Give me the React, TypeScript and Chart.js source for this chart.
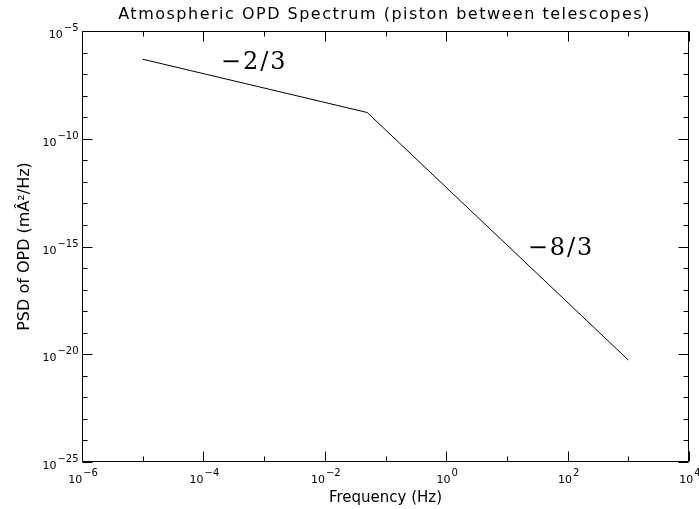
import React, { useEffect, useRef } from 'react';
import { Chart, registerables } from 'chart.js';

Chart.register(...registerables);

// ---- data ----
const frequencyHz = [1e-5, 0.05, 1e3];
const psdOpd = [4.9e-7, 1.65e-9, 5.4e-21];

const xTickExponents = [-6, -5, -4, -3, -2, -1, 0, 1, 2, 3, 4];
const xLabelExponents = [-6, -4, -2, 0, 2, 4];
const yTickExponents = [
  -25, -24, -23, -22, -21, -20, -19, -18, -17, -16, -15, -14, -13, -12, -11, -10, -9, -8, -7, -6, -5,
];
const yLabelExponents = [-25, -20, -15, -10, -5];

const slopeLabels = ['\u22122/3', '\u22128/3'];
const slopeLabelX = [6.6e-4, 75];
const slopeLabelY = [1.74e-7, 4.1e-16];

const chartTitle = 'Atmospheric OPD Spectrum (piston between telescopes)';
const xAxisTitle = 'Frequency (Hz)';
const yAxisTitle = 'PSD of OPD (m\u00c2\u00b2/Hz)';

const BASE_FONT = '11px "DejaVu Sans"';
const EXP_FONT = '10px "DejaVu Sans"';
const expText = (e: number) => String(e).replace('-', '\u2212');

function drawPow10(ctx: CanvasRenderingContext2D, e: number, x: number, baseline: number, align: 'center' | 'right') {
  ctx.font = BASE_FONT;
  const wb = ctx.measureText('10').width;
  ctx.font = EXP_FONT;
  const et = expText(e);
  const we = ctx.measureText(et).width + 1;
  const total = wb + we;
  const x0 = align === 'center' ? x - total / 2 : x - total;
  ctx.textAlign = 'left';
  ctx.textBaseline = 'alphabetic';
  ctx.font = BASE_FONT;
  ctx.fillText('10', x0, baseline);
  ctx.font = EXP_FONT;
  ctx.fillText(et, x0 + wb + 1, baseline - 7);
}

const framePlugin = {
  id: 'idlFrame',
  afterDatasetsDraw(chart: any) {
    const { ctx, chartArea, scales } = chart;
    const { left, right, top, bottom } = chartArea;
    const xs = scales.x;
    const ys = scales.y;
    ctx.save();
    ctx.strokeStyle = '#000';
    ctx.lineWidth = 1;
    const L = Math.round(left) + 0.5;
    const R = Math.round(right) - 0.5;
    const T = Math.round(top) + 0.5;
    const B = Math.round(bottom) - 0.5;
    ctx.beginPath();
    ctx.rect(L, T, R - L, B - T);
    xTickExponents.forEach((e) => {
      const px = Math.round(xs.getPixelForValue(Math.pow(10, e))) + 0.5;
      const len = xLabelExponents.includes(e) ? 10 : 5;
      ctx.moveTo(px, B);
      ctx.lineTo(px, B - len);
      ctx.moveTo(px, T);
      ctx.lineTo(px, T + len);
    });
    yTickExponents.forEach((e) => {
      const py = Math.round(ys.getPixelForValue(Math.pow(10, e))) + 0.5;
      const len = yLabelExponents.includes(e) ? 10 : 5;
      ctx.moveTo(L, py);
      ctx.lineTo(L + len, py);
      ctx.moveTo(R, py);
      ctx.lineTo(R - len, py);
    });
    ctx.stroke();

    ctx.fillStyle = '#000';
    // tick labels (10 with superscript exponent), placed by the scales
    xLabelExponents.forEach((e) => {
      drawPow10(ctx, e, xs.getPixelForValue(Math.pow(10, e)) + 1, bottom + 21, 'center');
    });
    yLabelExponents.forEach((e) => {
      drawPow10(ctx, e, left - 3.5, ys.getPixelForValue(Math.pow(10, e)) + 7, 'right');
    });

    // title centred over the plot area
    ctx.font = '16px "DejaVu Sans"';
    (ctx as any).letterSpacing = '1.5px';
    ctx.textAlign = 'center';
    ctx.textBaseline = 'middle';
    ctx.fillText(chartTitle, (left + right) / 2 - 1, 15);

    // slope annotations
    ctx.font = '24px "DejaVu Serif"';
    (ctx as any).letterSpacing = '2px';
    ctx.textBaseline = 'alphabetic';
    slopeLabels.forEach((t, i) => {
      ctx.fillText(t, xs.getPixelForValue(slopeLabelX[i]) + 1, ys.getPixelForValue(slopeLabelY[i]));
    });
    ctx.restore();
  },
};

export default function App() {
  const ref = useRef<HTMLCanvasElement | null>(null);

  useEffect(() => {
    if (!ref.current) return;
    const chart = new Chart(ref.current, {
      type: 'line',
      data: {
        datasets: [
          {
            data: frequencyHz.map((f, i) => ({ x: f, y: psdOpd[i] })),
            borderColor: '#000',
            borderWidth: 1,
            pointRadius: 0,
            tension: 0,
            fill: false,
          },
        ],
      },
      options: {
        responsive: false,
        animation: false,
        layout: { padding: { top: 31, right: 10, left: 0, bottom: 0 } },
        plugins: {
          legend: { display: false },
          title: { display: false },
          tooltip: { enabled: false },
        },
        scales: {
          x: {
            type: 'logarithmic',
            min: 1e-6,
            max: 1e4,
            afterBuildTicks: (s: any) => {
              s.ticks = xTickExponents.map((e) => ({ value: Math.pow(10, e) }));
            },
            afterFit: (s: any) => {
              s.height = 47;
              s.paddingLeft = 0;
              s.paddingRight = 0;
            },
            grid: { display: false, drawTicks: false },
            border: { display: false },
            ticks: { display: false },
            title: {
              display: true,
              text: xAxisTitle,
              color: '#000',
              font: { family: 'DejaVu Sans', size: 15 },
              padding: { top: 0, bottom: 2 },
            },
          },
          y: {
            type: 'logarithmic',
            min: 1e-25,
            max: 1e-5,
            afterBuildTicks: (s: any) => {
              s.ticks = yTickExponents.map((e) => ({ value: Math.pow(10, e) }));
            },
            afterFit: (s: any) => {
              s.width = 82;
              s.paddingTop = 0;
              s.paddingBottom = 0;
            },
            grid: { display: false, drawTicks: false },
            border: { display: false },
            ticks: { display: false },
            title: {
              display: true,
              text: yAxisTitle,
              color: '#000',
              font: { family: 'DejaVu Sans', size: 16 },
              padding: { top: 15, bottom: 0 },
            },
          },
        },
      },
      plugins: [framePlugin],
    } as any);
    return () => chart.destroy();
  }, []);

  return (
    <div style={{ position: 'fixed', left: 0, top: 0, width: 699, height: 509, background: '#fff' }}>
      <canvas ref={ref} width={699} height={509} style={{ display: 'block' }} />
    </div>
  );
}
